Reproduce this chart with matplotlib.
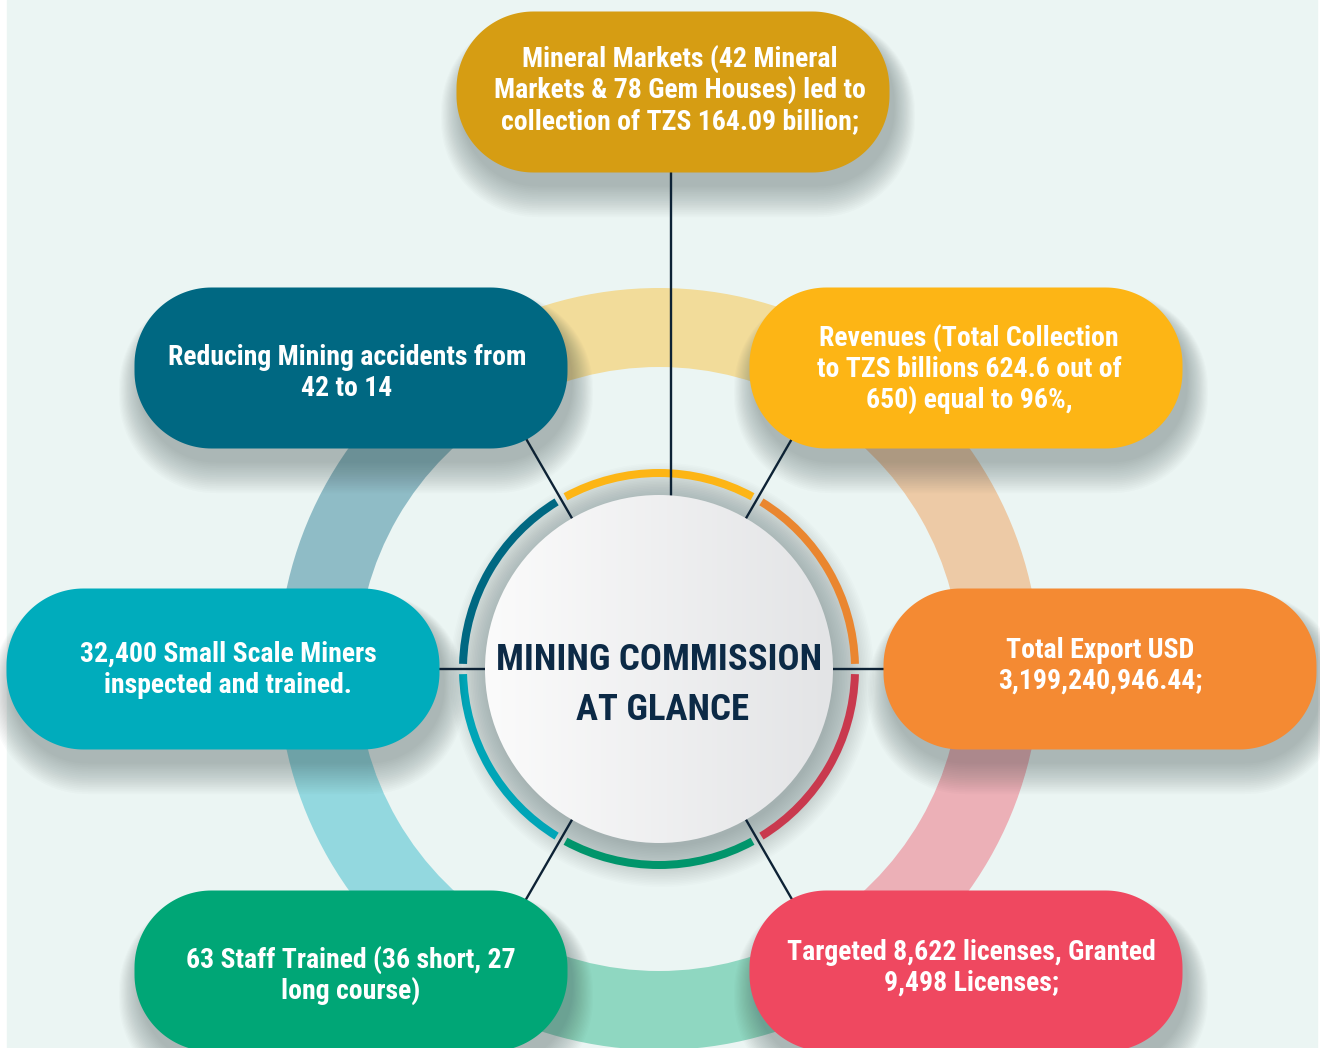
import os
import numpy as np
import matplotlib
matplotlib.use("Agg")
import matplotlib.pyplot as plt
from matplotlib.patches import Polygon, Circle, Wedge, Rectangle
from matplotlib import font_manager as fm
from matplotlib.colors import to_rgb

# ---------------- data ----------------
title_lines = ["MINING COMMISSION", "AT GLANCE"]
box_labels = [
    "Mineral Markets (42 Mineral\nMarkets & 78 Gem Houses) led to\ncollection of TZS 164.09 billion;",
    "Revenues (Total Collection\nto TZS billions 624.6 out of\n650) equal to 96%,",
    "Total Export USD\n3,199,240,946.44;",
    "Targeted 8,622 licenses, Granted\n9,498 Licenses;",
    "63 Staff Trained (36 short, 27\nlong course)",
    "32,400 Small Scale Miners\ninspected and trained.",
    "Reducing Mining accidents from\n42 to 14",
]
box_colors = ["#D69D13", "#FDB515", "#F48A33", "#EF4860", "#00A676", "#00ACBC", "#006882"]

# ring segments (screen angles, degrees, counter-clockwise)
big_ring_spans = [(60, 120), (0, 60), (-60, 0), (-120, -60), (180, 240), (120, 180)]
big_ring_colors = ["#F2DC9A", "#EDCAA6", "#ECB0B7", "#8FD7C1", "#93D8DF", "#8FBCC6"]
thin_ring_spans = [(61.5, 118.5), (1.5, 58.5), (-58.5, -1.5), (-118.5, -61.5), (181.5, 238.5), (121.5, 178.5)]
thin_ring_colors = ["#FDB515", "#EA862F", "#C9394E", "#00956B", "#00A5B7", "#006882"]
connector_angles = [60, 0, -60, -120, 180, 120]

# ---------------- layout (pixels, y measured from top) ----------------
W, H = 1320, 1048
CX, CY = 659, 669
box_centers = [(673, 92), (966, 368), (1100, 669), (966, 971), (351, 971), (223, 669), (351, 368)]
box_w, box_h = 433, 161
text_x = [680, 969, 1100, 971, 351, 228, 347]
text_base = [67, 346, 658, 960, 968, 662, 365]
pitch = 31


def Y(y):
    return H - y


def pill(cx, cy, w, h, r, **kw):
    pts = []
    corners = [(cx + w / 2 - r, cy + h / 2 - r, 0, 90),
               (cx - w / 2 + r, cy + h / 2 - r, 90, 180),
               (cx - w / 2 + r, cy - h / 2 + r, 180, 270),
               (cx + w / 2 - r, cy - h / 2 + r, 270, 360)]
    for (ox, oy, a1, a2) in corners:
        t = np.deg2rad(np.linspace(a1, a2, 40))
        pts.extend(zip(ox + r * np.cos(t), oy + r * np.sin(t)))
    return Polygon(pts, closed=True, **kw)


# ---------------- fonts ----------------
def pick_font(basenames):
    files = {os.path.basename(f.fname).lower(): f.fname for f in fm.fontManager.ttflist}
    for b in basenames:
        if b in files:
            return files[b]
    return None


cf = pick_font(["robotocondensed-bold.ttf", "liberationsansnarrow-bold.ttf",
                "dejavusanscondensed-bold.ttf"])
if cf:
    body_fp = fm.FontProperties(fname=cf, size=20)
    title_fp = fm.FontProperties(fname=cf, size=26.5)
else:
    body_fp = fm.FontProperties(family="Roboto", weight="bold", size=18)
    title_fp = fm.FontProperties(family="Roboto", weight="bold", size=24)

# ---------------- figure ----------------
fig = plt.figure(figsize=(W / 100, H / 100), dpi=100, facecolor="white")
ax = fig.add_axes([0, 0, 1, 1])
ax.set_xlim(0, W)
ax.set_ylim(0, H)
ax.set_aspect("equal")
ax.axis("off")

ax.add_patch(Rectangle((7, 0), 1310, H, color="#EBF5F3", zorder=0))

# big faded ring
cy = Y(CY)
for (a1, a2), c in zip(big_ring_spans, big_ring_colors):
    ax.add_patch(Wedge((CX, cy), 381, a1, a2, width=79, color=c, lw=0, zorder=1))

# centre circle shadow
for k in range(26):
    ax.add_patch(Circle((CX + 3, cy - 6), 172 + k * 1.6, color="#34484a", alpha=0.014,
                        lw=0, zorder=2))

# thin ring
for (a1, a2), c in zip(thin_ring_spans, thin_ring_colors):
    ax.add_patch(Wedge((CX, cy), 200, a1, a2, width=8, color=c, lw=0, zorder=3))

# connectors
lc = "#0D2235"
for ang in connector_angles:
    t = np.deg2rad(ang)
    r1 = 172
    r2 = 240 if ang in (0, 180) else 290
    ax.plot([CX + r1 * np.cos(t), CX + r2 * np.cos(t)],
            [cy + r1 * np.sin(t), cy + r2 * np.sin(t)], color=lc, lw=1.7,
            solid_capstyle="butt", zorder=4)
ax.plot([671, 671], [Y(160), Y(496)], color=lc, lw=1.7, solid_capstyle="butt", zorder=4)

# centre circle with gradient
circ = Circle((CX, cy), 174, facecolor="none", edgecolor="none", zorder=5)
ax.add_patch(circ)
c1, c2 = np.array(to_rgb("#FBFBFB")), np.array(to_rgb("#E3E4E6"))
tt = np.linspace(0, 1, 256)
grad = (c1[None, :] * (1 - tt[:, None]) + c2[None, :] * tt[:, None])[None, :, :]
im = ax.imshow(grad, extent=[CX - 174, CX + 174, cy - 174, cy + 174], aspect="auto",
               zorder=5, interpolation="bilinear")
im.set_clip_path(circ)

for i, line in enumerate(title_lines):
    ax.text([659, 663][i], Y([670, 720][i]), line, fontproperties=title_fp,
            color="#0C2A46", ha="center", va="baseline", zorder=6)

# box shadows
for (bx, by) in box_centers:
    for k in range(18):
        g = 2.4 * k
        ax.add_patch(pill(bx + 5, Y(by) - 14 - k * 0.6, box_w + g, box_h + g, 76 + g / 2,
                          color="#2c3e3e", alpha=0.02, lw=0, zorder=7))

# boxes
for (bx, by), c in zip(box_centers, box_colors):
    ax.add_patch(pill(bx, Y(by), box_w, box_h, 77, color=c, lw=0, zorder=8))

# box texts
for lab, tx, tb in zip(box_labels, text_x, text_base):
    for j, line in enumerate(lab.split("\n")):
        ax.text(tx, Y(tb + j * pitch), line, fontproperties=body_fp, color="white",
                ha="center", va="baseline", zorder=9)

fig.savefig("out.png", dpi=100, facecolor="white")
